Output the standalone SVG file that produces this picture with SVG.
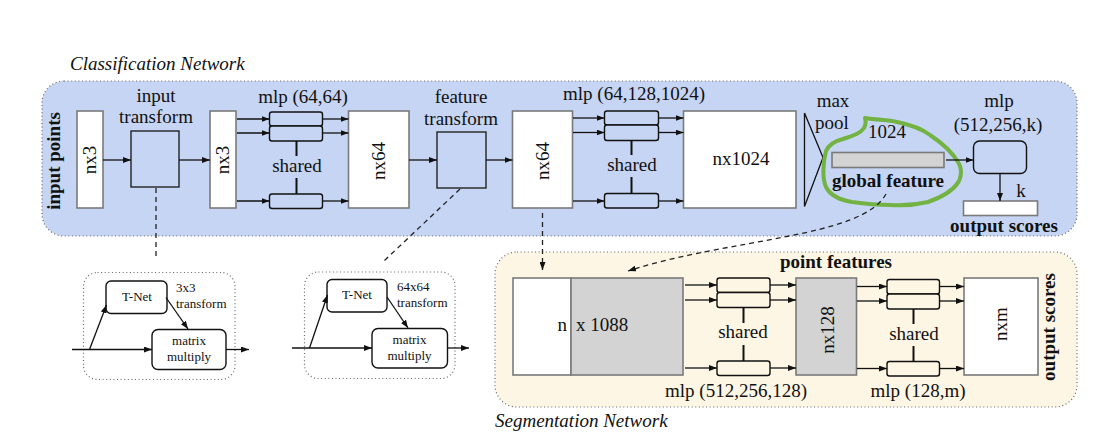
<svg xmlns="http://www.w3.org/2000/svg" width="1113" height="438" viewBox="0 0 1113 438">
<defs>
<style>
text{font-family:"Liberation Serif","Times New Roman",serif;fill:#111;}
.t19{font-size:19px;}
.b19{font-size:19px;font-weight:bold;}
.it{font-size:19px;font-style:italic;}
.t13{font-size:13px;}
.mid{text-anchor:middle;}
.panel{stroke:#666;stroke-width:1.2;stroke-dasharray:1 2.6;}
.wbox{fill:#fff;stroke:#7a7a7a;stroke-width:1.6;}
.gbox{fill:#d3d3d3;stroke:#7a7a7a;stroke-width:1.6;}
.tbox{fill:#c6d5f3;stroke:#222;stroke-width:1.4;}
.mlp{fill:#c6d5f3;stroke:#111;stroke-width:1.4;}
.mlps{fill:#fdf6e4;stroke:#111;stroke-width:1.4;}
.rbox{fill:#fff;stroke:#111;stroke-width:1.4;}
.ln{stroke:#111;stroke-width:1.3;fill:none;}
.arr{stroke:#111;stroke-width:1.3;fill:none;marker-end:url(#ah);}
.sh{stroke:#111;stroke-width:2;}
.dash{stroke:#222;stroke-width:1.3;fill:none;stroke-dasharray:5 4;}
.dashA{stroke:#222;stroke-width:1.3;fill:none;stroke-dasharray:5 4;marker-end:url(#ah);}
.spot{fill:none;stroke:#72b343;stroke-width:4;stroke-linejoin:round;stroke-linecap:round;}
</style>
<marker id="ah" viewBox="0 0 8 6" refX="8" refY="3" markerWidth="8" markerHeight="6" orient="auto" markerUnits="userSpaceOnUse">
<path d="M0,0 L8,3 L0,6 z" fill="#111"/>
</marker>
</defs>
<rect width="1113" height="438" fill="#fff"/>

<!-- panels -->
<g id="classification-panel">
<rect class="panel" x="42" y="81" width="1035" height="155" rx="22" fill="#c6d5f3"/>
<text class="it" x="70" y="70">Classification Network</text>
</g>
<g id="segmentation-panel">
<rect class="panel" x="495" y="252" width="582" height="155" rx="22" fill="#fdf6e4"/>
<text class="it" x="495" y="427">Segmentation Network</text>
</g>

<g id="input-points-label"><text class="b19 mid" transform="translate(60,161) rotate(-90)">input points</text></g>

<g id="nx3-a"><rect class="wbox" x="77" y="111" width="26" height="97"/><text class="t19 mid" transform="translate(96,160) rotate(-90)">nx3</text></g>

<g id="input-transform"><rect class="tbox" x="131" y="131" width="48" height="56"/>
<text class="t19 mid" x="156" y="102">input</text><text class="t19 mid" x="156" y="123">transform</text></g>

<g id="nx3-b"><rect class="wbox" x="210" y="111" width="26" height="97"/><text class="t19 mid" transform="translate(229,160) rotate(-90)">nx3</text></g>

<g id="mlp-64-64">
<rect class="mlp" x="269.5" y="112" width="53" height="14" rx="2.5"/>
<rect class="mlp" x="269.5" y="126" width="53" height="15" rx="2.5"/>
<rect class="mlp" x="269.5" y="194" width="53" height="14.5" rx="2.5"/>
<line class="sh" x1="296.5" y1="141" x2="296.5" y2="156"/>
<line class="sh" x1="296.5" y1="178" x2="296.5" y2="194"/>
<text class="t19 mid" x="297" y="172">shared</text>
<text class="t19 mid" x="303" y="103">mlp (64,64)</text>
</g>

<g id="nx64-a"><rect class="wbox" x="348.5" y="111" width="60.5" height="97"/><text class="t19 mid" transform="translate(385,161) rotate(-90)">nx64</text></g>

<g id="feature-transform"><rect class="tbox" x="437" y="132" width="49" height="56"/>
<text class="t19 mid" x="461" y="103">feature</text><text class="t19 mid" x="461" y="125">transform</text></g>

<g id="nx64-b"><rect class="wbox" x="512.5" y="111" width="60" height="97"/><text class="t19 mid" transform="translate(549,161) rotate(-90)">nx64</text></g>

<g id="mlp-64-128-1024">
<rect class="mlp" x="604.5" y="111" width="54" height="14" rx="2.5"/>
<rect class="mlp" x="604.5" y="125" width="54" height="15.5" rx="2.5"/>
<rect class="mlp" x="604.5" y="193.5" width="54" height="14.5" rx="2.5"/>
<line class="sh" x1="631.5" y1="140.5" x2="631.5" y2="155"/>
<line class="sh" x1="631.5" y1="177" x2="631.5" y2="193.5"/>
<text class="t19 mid" x="632" y="171">shared</text>
<text class="t19 mid" x="634" y="100">mlp (64,128,1024)</text>
</g>

<g id="nx1024"><rect class="wbox" x="683.5" y="111" width="112.5" height="97"/><text class="t19 mid" x="741" y="165">nx1024</text></g>

<g id="max-pool">
<path class="ln" d="M804.5,113 L804.5,206.5 M804.5,113 L823,157.5 L804.5,206.5"/>
<text class="t19 mid" x="833" y="107">max</text><text class="t19 mid" x="832" y="129">pool</text>
</g>

<g id="global-feature">
<rect class="gbox" x="832" y="152.5" width="112" height="15"/>
<text class="t19 mid" x="887" y="138">1024</text>
<text class="b19 mid" x="888" y="187">global feature</text>
<path class="spot" d="M865,118 C878,120 888,120 897,122 C912,125 922,129 930,135 C942,143 952,152 958,162 C963,170 961,179 957,184 C952,191 942,197 928,202 C915,205 903,206 890,205 C878,205 866,204 852,202 C840,200 830,195 826,187 C822,178 823,162 826,151 C829,144 835,141 843,139 C852,136 860,134 864,128 C866,124 866,121 865,118 Z"/>
</g>

<g id="mlp-512-256-k">
<rect class="mlp" x="973.5" y="141" width="53" height="32.5" rx="6"/>
<text class="t19 mid" x="999" y="107">mlp</text><text class="t19 mid" x="998" y="131">(512,256,k)</text>
</g>

<g id="output-scores-cls">
<rect class="wbox" x="963.5" y="201" width="74" height="14.5"/>
<text class="t19 mid" x="1021" y="197">k</text>
<text class="b19 mid" x="1004" y="232">output scores</text>
</g>

<!-- T-Net modules -->
<g id="tnet-3x3">
<rect class="panel" x="83.5" y="272.5" width="151.5" height="107" rx="14" fill="none"/>
<rect class="rbox" x="106" y="281" width="61" height="32.5" rx="5"/>
<text class="t13 mid" x="137" y="301">T-Net</text>
<text class="t13" x="176" y="292">3x3</text><text class="t13" x="176" y="308">transform</text>
<rect class="rbox" x="152" y="329.5" width="74" height="40" rx="6"/>
<text class="t13 mid" x="189" y="345">matrix</text><text class="t13 mid" x="189" y="361">multiply</text>
</g>

<g id="tnet-64x64">
<rect class="panel" x="304.5" y="272" width="150.5" height="106.5" rx="14" fill="none"/>
<rect class="rbox" x="327" y="279.5" width="60" height="32.5" rx="5"/>
<text class="t13 mid" x="357" y="299">T-Net</text>
<text class="t13" x="397" y="291">64x64</text><text class="t13" x="397" y="307">transform</text>
<rect class="rbox" x="372" y="328.5" width="75.5" height="39.5" rx="6"/>
<text class="t13 mid" x="409.5" y="344">matrix</text><text class="t13 mid" x="409.5" y="360">multiply</text>
</g>

<!-- segmentation -->
<g id="point-features">
<rect class="wbox" x="513" y="278" width="58" height="97"/>
<rect class="gbox" x="571" y="278" width="112" height="97"/>
<text class="t19" x="567" y="331" text-anchor="end">n</text>
<text class="t19" x="576" y="331">x 1088</text>
<text class="b19" x="892" y="268" text-anchor="end">point features</text>
</g>

<g id="mlp-512-256-128">
<rect class="mlps" x="717" y="278" width="53" height="14.5" rx="2.5"/>
<rect class="mlps" x="717" y="292.5" width="53" height="15" rx="2.5"/>
<rect class="mlps" x="717" y="361" width="53" height="14.5" rx="2.5"/>
<line class="sh" x1="743.5" y1="307.5" x2="743.5" y2="323"/>
<line class="sh" x1="743.5" y1="345" x2="743.5" y2="361"/>
<text class="t19 mid" x="743" y="338">shared</text>
<text class="t19" x="665" y="397">mlp (512,256,128)</text>
</g>

<g id="nx128"><rect class="gbox" x="796" y="278" width="60.5" height="97"/><text class="t19 mid" transform="translate(834,330) rotate(-90)">nx128</text></g>

<g id="mlp-128-m">
<rect class="mlps" x="887" y="279.5" width="52.5" height="14.5" rx="2.5"/>
<rect class="mlps" x="887" y="294" width="52.5" height="15" rx="2.5"/>
<rect class="mlps" x="887" y="361.5" width="52.5" height="14.5" rx="2.5"/>
<line class="sh" x1="913.5" y1="309" x2="913.5" y2="324"/>
<line class="sh" x1="913.5" y1="346" x2="913.5" y2="361.5"/>
<text class="t19 mid" x="914" y="340">shared</text>
<text class="t19 mid" x="918" y="397">mlp (128,m)</text>
</g>

<g id="nxm"><rect class="wbox" x="964" y="278" width="74" height="97"/><text class="t19 mid" transform="translate(1006.5,324) rotate(-90)">nxm</text></g>

<g id="output-scores-seg"><text class="b19 mid" transform="translate(1055,327) rotate(-90)">output scores</text></g>

<!-- connectors -->
<g id="connectors">
<line class="arr" x1="103" y1="160" x2="131" y2="160"/>
<line class="arr" x1="179" y1="160" x2="210" y2="160"/>
<line class="arr" x1="237" y1="119" x2="269.5" y2="119"/>
<line class="arr" x1="237" y1="133" x2="269.5" y2="133"/>
<line class="arr" x1="237" y1="201" x2="269.5" y2="201"/>
<line class="arr" x1="322.5" y1="119" x2="348.5" y2="119"/>
<line class="arr" x1="322.5" y1="133" x2="348.5" y2="133"/>
<line class="arr" x1="322.5" y1="201" x2="348.5" y2="201"/>
<line class="arr" x1="409" y1="160" x2="437" y2="160"/>
<line class="arr" x1="486" y1="160" x2="512.5" y2="160"/>
<line class="arr" x1="573" y1="118" x2="604.5" y2="118"/>
<line class="arr" x1="573" y1="132.5" x2="604.5" y2="132.5"/>
<line class="arr" x1="573" y1="201" x2="604.5" y2="201"/>
<line class="arr" x1="658.5" y1="118" x2="683.5" y2="118"/>
<line class="arr" x1="658.5" y1="132.5" x2="683.5" y2="132.5"/>
<line class="arr" x1="658.5" y1="201" x2="683.5" y2="201"/>
<line class="arr" x1="946" y1="160" x2="973.5" y2="160"/>
<line class="arr" x1="1000" y1="173.5" x2="1000" y2="201"/>
<!-- T-Net 1 -->
<line class="arr" x1="72" y1="349.5" x2="152" y2="349.5"/>
<line class="arr" x1="89.5" y1="349.5" x2="106.5" y2="305"/>
<line class="arr" x1="166" y1="297.5" x2="188" y2="329"/>
<line class="arr" x1="226" y1="349.5" x2="249" y2="349.5"/>
<!-- T-Net 2 -->
<line class="arr" x1="292" y1="348" x2="372" y2="348"/>
<line class="arr" x1="309.5" y1="348" x2="327.5" y2="295"/>
<line class="arr" x1="387" y1="297" x2="408" y2="328"/>
<line class="arr" x1="447.5" y1="348" x2="469" y2="348"/>
<!-- dashed links -->
<line class="dash" x1="156" y1="188" x2="156" y2="257"/>
<line class="dash" x1="460" y1="189" x2="384" y2="261"/>
<line class="dashA" x1="542.5" y1="213" x2="542.5" y2="270"/>
<path class="dashA" d="M886,194 C862,238 730,238 628,271"/>
<!-- segmentation -->
<line class="arr" x1="685" y1="285" x2="717" y2="285"/>
<line class="arr" x1="685" y1="300" x2="717" y2="300"/>
<line class="arr" x1="685" y1="368" x2="717" y2="368"/>
<line class="arr" x1="770" y1="285" x2="796" y2="285"/>
<line class="arr" x1="770" y1="300" x2="796" y2="300"/>
<line class="arr" x1="770" y1="368" x2="796" y2="368"/>
<line class="arr" x1="857" y1="286.5" x2="887" y2="286.5"/>
<line class="arr" x1="857" y1="301" x2="887" y2="301"/>
<line class="arr" x1="857" y1="368.5" x2="887" y2="368.5"/>
<line class="arr" x1="939.5" y1="286.5" x2="964" y2="286.5"/>
<line class="arr" x1="939.5" y1="301" x2="964" y2="301"/>
<line class="arr" x1="939.5" y1="368.5" x2="964" y2="368.5"/>
</g>
</svg>
